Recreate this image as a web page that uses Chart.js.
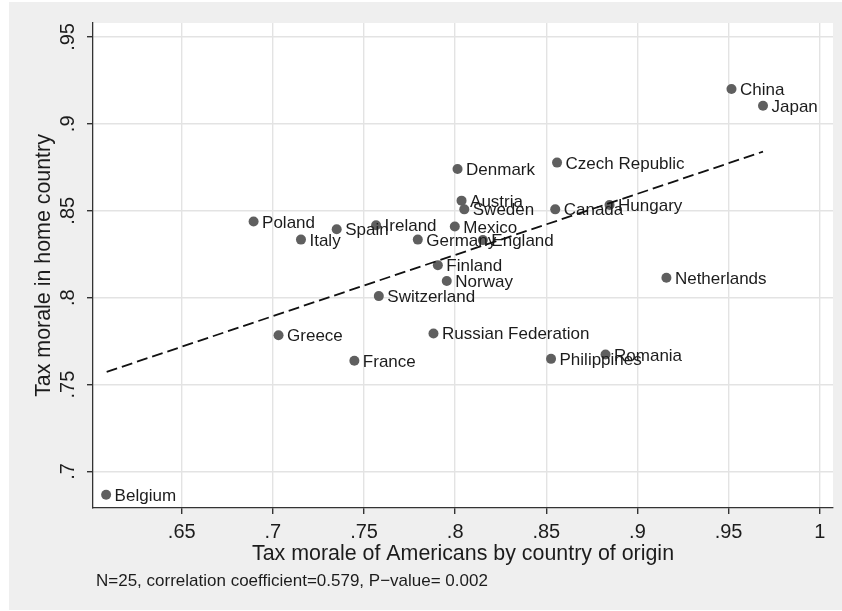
<!DOCTYPE html>
<html lang="en">
  <head>
    <meta charset="UTF-8" />
    <title>Tax morale</title>
    <style>
      body{
        margin: 0;
        background: #ffffff;
      }
      canvas{
        display: block;
      }
    </style>
  </head>
  <body>
    <canvas id="chart" width="842" height="611"></canvas>
    <script src="https://cdn.jsdelivr.net/npm/chart.js"></script>
    <script>
      const countries = ["Belgium", "Greece", "France", "Russian Federation", "Philippines", "Romania",
        "Switzerland", "Norway", "Finland", "Germany", "England", "Mexico", "Ireland", "Spain", "Italy",
        "Poland", "Austria", "Sweden", "Denmark", "Czech Republic", "Canada", "Hungary", "Netherlands",
        "China", "Japan"];
      // tax morale of Americans by country of origin
      const americans = [0.6085, 0.7031, 0.7447, 0.7881, 0.8526, 0.8825, 0.7581, 0.7954, 0.7905, 0.7795,
        0.8152, 0.7998, 0.7566, 0.7350, 0.7154, 0.6894, 0.8035, 0.8050, 0.8013, 0.8559, 0.8549, 0.8847,
        0.9159, 0.9516, 0.9689];
      // tax morale in home country
      const home = [0.6866, 0.7784, 0.7637, 0.7794, 0.7648, 0.7673, 0.8009, 0.8096, 0.8186, 0.8334,
        0.8331, 0.8409, 0.8417, 0.8394, 0.8334, 0.8438, 0.8558, 0.8508, 0.8740, 0.8777, 0.8508, 0.8533,
        0.8115, 0.9200, 0.9104];
      // fitted line, ends
      const fitX = [0.6088, 0.9689];
      const fitY = [0.7573, 0.8840];

      const xTicks = [0.65, 0.7, 0.75, 0.8, 0.85, 0.9, 0.95, 1];
      const xTickLabels = [".65", ".7", ".75", ".8", ".85", ".9", ".95", "1"];
      const yTicks = [0.7, 0.75, 0.8, 0.85, 0.9, 0.95];
      const yTickLabels = [".7", ".75", ".8", ".85", ".9", ".95"];

      const FONT = '"Liberation Sans", Arial, Helvetica, sans-serif';
      const TEXT = "#1c1c1c";

      const points = americans.map((x, i) => ({ x: x, y: home[i] }));
      const fitLine = fitX.map((x, i) => ({ x: x, y: fitY[i] }));

      const backgroundPlugin = {
        id: "bg",
        beforeDraw(chart) {
          const ctx = chart.ctx;
          const a = chart.chartArea;
          ctx.save();
          ctx.fillStyle = "#ffffff";
          ctx.fillRect(0, 0, chart.width, chart.height);
          ctx.fillStyle = "#efefef";
          ctx.fillRect(9, 2, chart.width - 9, chart.height - 3);
          ctx.fillStyle = "#ffffff";
          ctx.fillRect(a.left, a.top, a.right - a.left, a.bottom - a.top);
          ctx.restore();
        }
      };

      const labelPlugin = {
        id: "pointLabels",
        afterDatasetDraw(chart, args) {
          if (args.index !== 0) return;
          const ctx = chart.ctx;
          ctx.save();
          ctx.font = "17px " + FONT;
          ctx.fillStyle = TEXT;
          ctx.textAlign = "left";
          ctx.textBaseline = "alphabetic";
          args.meta.data.forEach((el, i) => {
            ctx.fillText(countries[i], el.x + 8.5, el.y + 6);
          });
          ctx.restore();
        }
      };

      const axisTextPlugin = {
        id: "axisText",
        afterDraw(chart) {
          const ctx = chart.ctx;
          const a = chart.chartArea;
          const xs = chart.scales.x;
          const ys = chart.scales.y;
          ctx.save();
          ctx.fillStyle = TEXT;

          ctx.font = "20px " + FONT;
          ctx.textAlign = "center";
          ctx.textBaseline = "alphabetic";
          xTicks.forEach((v, i) => {
            ctx.fillText(xTickLabels[i], xs.getPixelForValue(v), 537.5);
          });
          yTicks.forEach((v, i) => {
            ctx.save();
            ctx.translate(74, ys.getPixelForValue(v));
            ctx.rotate(-Math.PI / 2);
            ctx.fillText(yTickLabels[i], 0, 0);
            ctx.restore();
          });

          ctx.font = "21.4px " + FONT;
          ctx.fillText("Tax morale of Americans by country of origin", (a.left + a.right) / 2, 559.5);
          ctx.save();
          ctx.translate(50, (a.top + a.bottom) / 2);
          ctx.rotate(-Math.PI / 2);
          ctx.fillText("Tax morale in home country", 0, 0);
          ctx.restore();

          ctx.font = "17px " + FONT;
          ctx.textAlign = "left";
          ctx.fillText("N=25, correlation coefficient=0.579, P\u2212value= 0.002", 96, 586);
          ctx.restore();
        }
      };

      const gridStyle = {
        color: "#e3e3e3",
        lineWidth: 1.4,
        tickColor: "#333333",
        tickLength: 6,
        drawTicks: true
      };

      new Chart(document.getElementById("chart"), {
        type: "scatter",
        data: {
          datasets: [
            {
              label: "countries",
              data: points,
              pointRadius: 5,
              pointHoverRadius: 5,
              pointBackgroundColor: "#5f5f5f",
              pointBorderWidth: 0,
              order: 1
            },
            {
              type: "line",
              label: "fit",
              data: fitLine,
              borderColor: "#111111",
              borderWidth: 1.8,
              borderDash: [11, 5],
              pointRadius: 0,
              fill: false,
              order: 0
            }
          ]
        },
        options: {
          responsive: false,
          animation: false,
          events: [],
          layout: {
            padding: { left: 0, right: 9, top: 23, bottom: 0 }
          },
          plugins: {
            legend: { display: false },
            tooltip: { enabled: false }
          },
          scales: {
            x: {
              type: "linear",
              min: 0.6013,
              max: 1.0073,
              afterBuildTicks(scale) {
                scale.ticks = xTicks.map(v => ({ value: v }));
              },
              afterFit(scale) {
                scale.height = 103;
              },
              grid: gridStyle,
              border: { color: "#333333", width: 1.3 },
              ticks: { display: false }
            },
            y: {
              type: "linear",
              min: 0.679,
              max: 0.958,
              afterBuildTicks(scale) {
                scale.ticks = yTicks.map(v => ({ value: v }));
              },
              afterFit(scale) {
                scale.width = 93;
              },
              grid: gridStyle,
              border: { color: "#333333", width: 1.3 },
              ticks: { display: false }
            }
          }
        },
        plugins: [backgroundPlugin, labelPlugin, axisTextPlugin]
      });
    </script>
  </body>
</html>
